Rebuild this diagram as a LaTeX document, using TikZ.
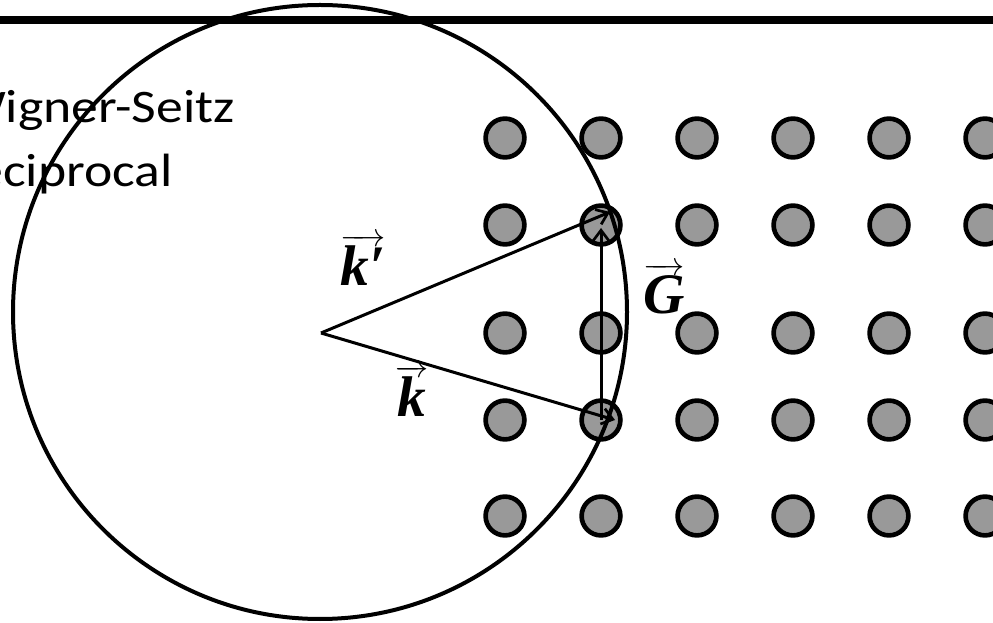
\documentclass[tikz,border=0pt]{standalone}
\usepackage{amsmath}
\usepackage{fontspec}
\setmainfont{Carlito}
\newfontfamily\labelfont{Liberation Serif}
\usetikzlibrary{arrows.meta}
\definecolor{dotgray}{RGB}{153,153,153}
\newcommand{\vlab}[1]{$\overrightarrow{\hbox{\labelfont\bfseries\itshape #1}}$}
\begin{document}
\begin{tikzpicture}[x=0.75pt,y=-0.75pt,
  dot/.style={circle,draw=black,fill=dotgray,line width=3.5pt,minimum size=29.1pt,inner sep=0pt},
  ewald/.style={circle,draw=black,line width=3pt,minimum size=460.5pt,inner sep=0pt},
  vecline/.style={line width=2.25pt,-{Straight Barb[length=8pt,width=12pt,line width=2pt]}},
  bodytext/.style={inner sep=0pt,font=\fontsize{35}{42}\selectfont},
  veclabel/.style={inner sep=0pt,font=\fontsize{43}{50}\selectfont}]
\useasboundingbox (0,0) rectangle (993,623);
\clip (0,0) rectangle (993,623);
% top rule
\coordinate (tl) at (0,20);
\coordinate (tr) at (993,20);
\draw[line width=6pt] (tl) -- (tr);
% text
\node[bodytext,anchor=base east] (t1) at (235,123) {\scalebox{1.15}[1]{Wigner-Seitz}};
\node[bodytext,anchor=base east] (t2) at (173,187) {\scalebox{1.15}[1]{reciprocal}};
% lattice
\foreach \c/\x in {1/505,2/601,3/697,4/793,5/889,6/985}{
  \foreach \r/\y in {1/138,2/225,3/333,4/420,5/516}{
    \node[dot] (d-\r-\c) at (\x,\y) {};
  }
}
% Ewald circle
\node[ewald] (ew) at (320,312) {};
% vectors
\coordinate (O) at (321,333);
\coordinate (Kp) at (610,212);
\coordinate (K) at (615,420);
\coordinate (Gt) at (601,228);
\draw[vecline] (O) -- (Kp);
\draw[vecline] (O) -- (K);
\draw[vecline] (d-4-2.center) -- (Gt);
% labels
\node[veclabel] (lkp) at (363,260) {\vlab{k′}};
\node[veclabel] (lk) at (412,391) {\vlab{k}};
\node[veclabel] (lg) at (664,289) {\vlab{G}};
\end{tikzpicture}
\end{document}
